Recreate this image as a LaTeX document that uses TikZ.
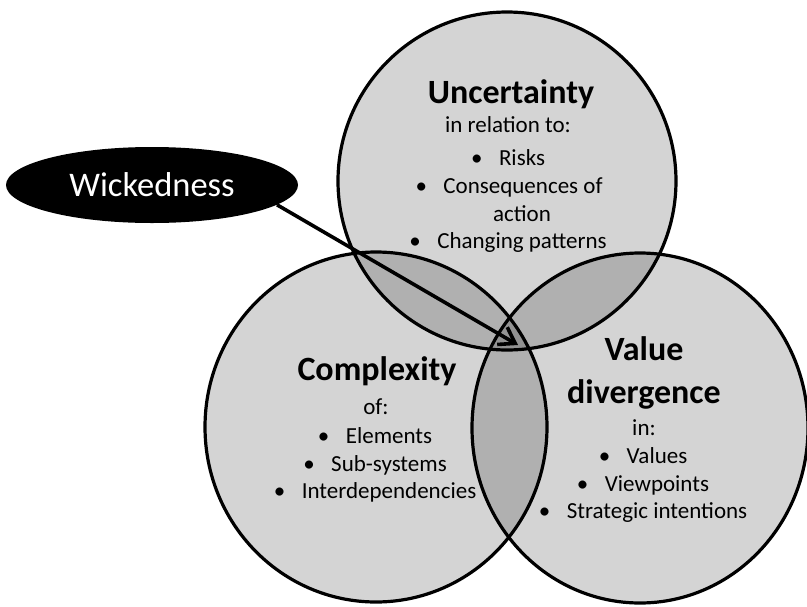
\documentclass[tikz,border=0pt]{standalone}
\usepackage{fontspec}
\setmainfont{Carlito}
\usetikzlibrary{shapes.geometric,arrows.meta}
\begin{document}
\begin{tikzpicture}[x=1pt,y=-1pt,
  circ/.style={fill=black, fill opacity=0.17, draw=none},
  ring/.style={draw=black, line width=3.2pt},
  ttl/.style={font=\fontsize{34}{40}\selectfont\bfseries, anchor=base, inner sep=0pt},
  txt/.style={font=\fontsize{23}{27}\selectfont, anchor=base, inner sep=0pt},
  wickbox/.style={ellipse, fill=black, minimum width=292pt, minimum height=76pt, inner sep=0pt, text=white, font=\fontsize{34.5}{40}\selectfont},
  arr/.style={line width=3.6pt, -{Straight Barb[length=15pt,width=20pt]}}]
\useasboundingbox (0,0) rectangle (807,606);
% circles
\fill[circ] (507,181) ellipse [x radius=169pt, y radius=169pt];
\fill[circ] (376,427) ellipse [x radius=171pt, y radius=175pt];
\fill[circ] (640,428) ellipse [x radius=168pt, y radius=175pt];
\draw[ring] (507,181) ellipse [x radius=169pt, y radius=169pt];
\draw[ring] (376,427) ellipse [x radius=171pt, y radius=175pt];
\draw[ring] (640,428) ellipse [x radius=168pt, y radius=175pt];
% top circle text
\node[ttl] (u0) at (511,103) {Uncertainty};
\node[txt] (u1) at (508,132) {in relation to:};
\node[txt] (u2) at (522,165) {Risks};
\node[txt] (u2b) at ([xshift=-22pt]u2.base west) {•};
\node[txt] (u3) at (523,193) {Consequences of};
\node[txt] (u3b) at ([xshift=-22pt]u3.base west) {•};
\node[txt] (u4) at (522,221) {action};
\node[txt] (u5) at (522,248) {Changing patterns};
\node[txt] (u5b) at ([xshift=-22pt]u5.base west) {•};
% left circle text
\node[ttl] (c0) at (377,380) {Complexity};
\node[txt] (c1) at (376,414) {of:};
\node[txt] (c2) at (389,443) {Elements};
\node[txt] (c2b) at ([xshift=-22pt]c2.base west) {•};
\node[txt] (c3) at (389,471) {Sub-systems};
\node[txt] (c3b) at ([xshift=-22pt]c3.base west) {•};
\node[txt] (c4) at (389,498) {Interdependencies};
\node[txt] (c4b) at ([xshift=-22pt]c4.base west) {•};
% right circle text
\node[ttl] (v0) at (644,360) {Value};
\node[ttl] (v1) at (644,403) {divergence};
\node[txt] (v2) at (644,435) {in:};
\node[txt] (v3) at (657,463) {Values};
\node[txt] (v3b) at ([xshift=-22pt]v3.base west) {•};
\node[txt] (v4) at (657,491) {Viewpoints};
\node[txt] (v4b) at ([xshift=-22pt]v4.base west) {•};
\node[txt] (v5) at (657,518) {Strategic intentions};
\node[txt] (v5b) at ([xshift=-22pt]v5.base west) {•};
% wickedness
\node[wickbox] (W) at (152,185) {Wickedness};
\coordinate (tip) at (518,345);
\draw[arr] (W.-9) -- (tip);
\end{tikzpicture}
\end{document}
